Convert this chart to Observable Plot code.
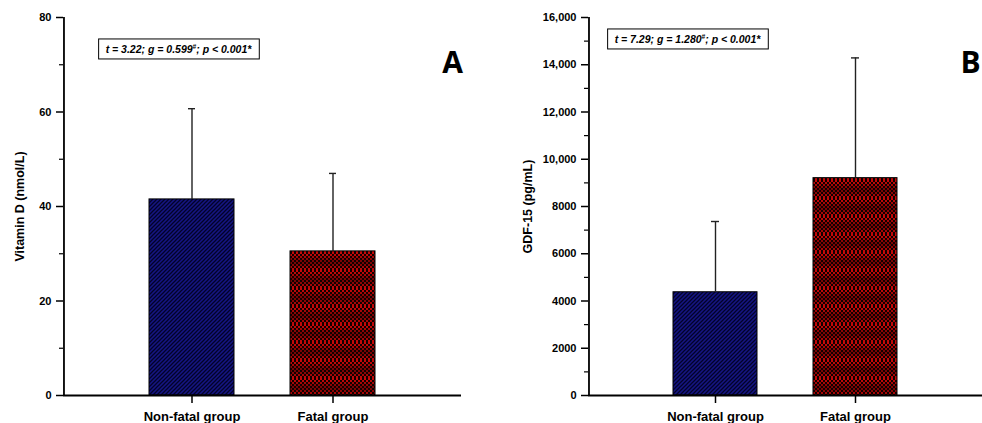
<!DOCTYPE html>
<html>
<head>
<meta charset="utf-8">
<script src="https://cdn.jsdelivr.net/npm/d3@7"></script>
<script src="https://cdn.jsdelivr.net/npm/@observablehq/plot@0.6"></script>
<style>
  html, body { margin: 0; padding: 0; background: #fff; }
  #wrap { position: relative; width: 982px; height: 423px; overflow: hidden; }
  #wrap > svg.plot { position: absolute; top: 0; }
</style>
</head>
<body>
<div id="wrap"></div>
<script>
// ---- Data ----
const groups = ["Non-fatal group", "Fatal group"];
const patterns = ["url(#patBlue)", "url(#patRed)"];

const vitDMean = [41.5, 30.5];
const vitDUpper = [60.7, 47.0];
const vitDTicks = [0, 20, 40, 60, 80];
const vitDMinor = [10, 30, 50, 70];
const vitDLabel = "Vitamin D (nmol/L)";
const vitDStats = ["t = 3.22; g = 0.599", "#", "; p < 0.001*"];

const gdfMean = [4370, 9200];
const gdfUpper = [7365, 14290];
const gdfTicks = [0, 2000, 4000, 6000, 8000, 10000, 12000, 14000, 16000];
const gdfMinor = [1000, 3000, 5000, 7000, 9000, 11000, 13000, 15000];
const gdfLabel = "GDF-15 (pg/mL)";
const gdfStats = ["t = 7.29; g = 1.280", "#", "; p < 0.001*"];

const panelLetters = ["A", "B"];

// ---- Patterns (hidden defs) ----
const NS = "http://www.w3.org/2000/svg";
const defsSvg = document.createElementNS(NS, "svg");
defsSvg.setAttribute("width", 0); defsSvg.setAttribute("height", 0);
defsSvg.style.position = "absolute";
const defs = document.createElementNS(NS, "defs");
defsSvg.appendChild(defs);
document.getElementById("wrap").appendChild(defsSvg);

// Blue diagonal hatch
(function () {
  const p = document.createElementNS(NS, "pattern");
  p.setAttribute("id", "patBlue");
  p.setAttribute("patternUnits", "userSpaceOnUse");
  p.setAttribute("width", 4); p.setAttribute("height", 4);
  const r = document.createElementNS(NS, "rect");
  r.setAttribute("width", 4); r.setAttribute("height", 4); r.setAttribute("fill", "#151584");
  p.appendChild(r);
  const path = document.createElementNS(NS, "path");
  path.setAttribute("d", "M-1,1 l2,-2 M0,4 l4,-4 M3,5 l2,-2");
  path.setAttribute("stroke", "#02022a"); path.setAttribute("stroke-width", 1.3);
  p.appendChild(path);
  defs.appendChild(p);
})();

// Red checker with subtle horizontal banding
(function () {
  const p = document.createElementNS(NS, "pattern");
  p.setAttribute("id", "patRed");
  p.setAttribute("patternUnits", "userSpaceOnUse");
  p.setAttribute("width", 4); p.setAttribute("height", 18);
  const bg = document.createElementNS(NS, "rect");
  bg.setAttribute("width", 4); bg.setAttribute("height", 18); bg.setAttribute("fill", "#120000");
  p.appendChild(bg);
  for (let i = 0; i < 9; i++) {
    const t = 0.5 + 0.5 * Math.cos((i / 9) * 2 * Math.PI);
    const c = d3.interpolateRgb("#7a0404", "#c80808")(t);
    const r = document.createElementNS(NS, "rect");
    r.setAttribute("x", (i % 2) * 2); r.setAttribute("y", i * 2);
    r.setAttribute("width", 2); r.setAttribute("height", 2);
    r.setAttribute("fill", c);
    p.appendChild(r);
  }
  defs.appendChild(p);
})();

function makePanel(opts) {
  const data = groups.map((g, i) => ({group: g, mean: opts.mean[i], upper: opts.upper[i], fill: patterns[i]}));
  const W = 491 - opts.marginLeft - opts.marginRight;
  const step = W / (groups.length - opts.pi + 2 * opts.po);
  const firstCenter = step * opts.po + step * (1 - opts.pi) / 2;
  const plot = Plot.plot({
    width: 491,
    height: 423,
    marginLeft: opts.marginLeft,
    marginRight: opts.marginRight,
    marginTop: 17,
    marginBottom: 28,
    style: {fontFamily: "'Liberation Sans', Arial, sans-serif", fontWeight: "bold", color: "black", fontSize: "11px", background: "transparent"},
    x: {domain: groups, paddingInner: opts.pi, paddingOuter: opts.po, label: null},
    y: {domain: [0, opts.max], label: null},
    color: {type: "identity"},
    marks: [
      Plot.barY(data, {x: "group", y: "mean", fill: "fill", stroke: "#000", strokeWidth: 1}),
      Plot.ruleX(data, {x: "group", y1: "mean", y2: "upper", stroke: "#222", strokeWidth: 1.4}),
      Plot.tickY(data, {x: "group", y: "upper", stroke: "#222", strokeWidth: 1.4, insetLeft: opts.capInset, insetRight: opts.capInset}),
      Plot.axisY({ticks: opts.ticks, tickSize: 7, tickPadding: 5, strokeWidth: 1.5, tickFormat: opts.fmt, label: null, fontSize: 11}),
      Plot.axisY({ticks: opts.minor, tickSize: 4, tickFormat: () => "", label: null, strokeWidth: 1.2}),
      Plot.axisX({tickSize: 8, tickPadding: 8, strokeWidth: 1.5, fontSize: 13, label: null}),
      // axis lines
      Plot.ruleY([0], {stroke: "#000", strokeWidth: 1.8}),
      Plot.ruleX([groups[0]], {x: d => d, y1: 0, y2: opts.max, dx: -firstCenter, stroke: "#000", strokeWidth: 1.8}),
      Plot.text([opts.label], {frameAnchor: "left", textAnchor: "middle", rotate: -90, dx: opts.labelDx, fontSize: 12.5, fontWeight: "bold"}),
      Plot.text([opts.stats.join("")], {frameAnchor: "top-left", dx: opts.statsDx, dy: opts.statsDy, textAnchor: "middle", fontSize: 10.5, fontStyle: "italic", fontWeight: "bold", className: "stats"}),
      Plot.text([opts.letter], {frameAnchor: "top-right", dx: opts.letterDx, dy: 34, textAnchor: "middle", fontSize: 30, fontWeight: "bold", fontFamily: "'Open Sans', 'Liberation Sans', sans-serif"})
    ]
  });
  plot.classList.add("plot");
  plot.style.left = opts.left + "px";
  document.getElementById("wrap").appendChild(plot);

  // superscript "#" and surrounding box
  const txt = plot.querySelector("g.stats text") || Array.from(plot.querySelectorAll("text")).find(t => t.textContent === opts.stats.join(""));
  if (txt) {
    txt.textContent = "";
    const a = document.createElementNS(NS, "tspan"); a.textContent = opts.stats[0];
    const b = document.createElementNS(NS, "tspan"); b.textContent = opts.stats[1];
    b.setAttribute("dy", "-3.5"); b.setAttribute("font-size", "6.5");
    const c = document.createElementNS(NS, "tspan"); c.textContent = opts.stats[2]; c.setAttribute("dy", "3.5");
    txt.appendChild(a); txt.appendChild(b); txt.appendChild(c);
    const bb = txt.getBBox();
    const ctm = txt.getAttribute("transform");
    const rect = document.createElementNS(NS, "rect");
    rect.setAttribute("x", bb.x - 7); rect.setAttribute("y", bb.y - 4);
    rect.setAttribute("width", bb.width + 14); rect.setAttribute("height", bb.height + 8);
    rect.setAttribute("fill", "none"); rect.setAttribute("stroke", "#000"); rect.setAttribute("stroke-width", 1);
    if (ctm) rect.setAttribute("transform", ctm);
    txt.parentNode.insertBefore(rect, txt);
  }
}

const fmtGdf = d => d >= 10000 ? d3.format(",")(d) : String(d);

makePanel({
  left: 0, marginLeft: 63, marginRight: 30, pi: 0.394, po: 0.599, max: 80,
  mean: vitDMean, upper: vitDUpper, ticks: vitDTicks, minor: vitDMinor, fmt: d => String(d),
  label: vitDLabel, labelDx: -44, stats: vitDStats, statsDx: 115, statsDy: 28,
  letter: panelLetters[0], letterDx: -9, capInset: 39
});
makePanel({
  left: 491, marginLeft: 97, marginRight: 0, pi: 0.397, po: 0.596, max: 16000,
  mean: gdfMean, upper: gdfUpper, ticks: gdfTicks, minor: gdfMinor, fmt: fmtGdf,
  label: gdfLabel, labelDx: -61, stats: gdfStats, statsDx: 99, statsDy: 18,
  letter: panelLetters[1], letterDx: -12, capInset: 38
});
</script>
</body>
</html>
